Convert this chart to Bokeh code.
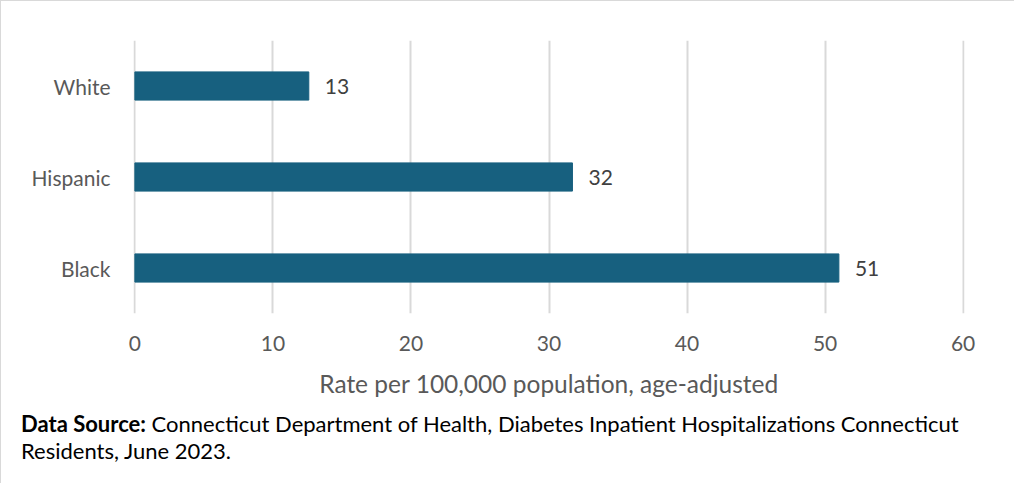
from bokeh.plotting import figure
from bokeh.layouts import column
from bokeh.models import FactorRange, Range1d, ColumnDataSource, FixedTicker, Div
from bokeh.embed import file_html
from bokeh.resources import INLINE
from bokeh.core.properties import value

categories = ["Black", "Hispanic", "White"]
rates = [51.0, 31.7, 12.6]
rate_labels = ["51", "32", "13"]
x_ticks = [0, 10, 20, 30, 40, 50, 60]
source_bold = "Data Source:"
source_line1 = "Connecticut Department of Health, Diabetes Inpatient Hospitalizations Connecticut"
source_line2 = "Residents, June 2023."

FONT = "Lato"
BAR_COLOR = "#17607F"

src = ColumnDataSource(dict(cat=categories, rate=rates, lab=rate_labels))

W, H1, H2 = 1012, 400, 79
p = figure(width=W, height=H1, output_backend="svg", toolbar_location=None,
           y_range=FactorRange(*categories, range_padding=0),
           x_range=Range1d(-0.1, 60.1),
           min_border_left=132, min_border_right=49, min_border_top=39, min_border_bottom=H1 - 312)
p.outline_line_color = None

p.hbar(y="cat", right="rate", left=0, height=0.31, source=src, color=BAR_COLOR)
p.text(x="rate", y="cat", text="lab", source=src, x_offset=16, text_baseline="middle",
       text_font=value(FONT), text_font_size="21px", text_color="#404040")

p.xaxis.ticker = FixedTicker(ticks=x_ticks)
p.xaxis.axis_line_color = None
p.xaxis.major_tick_line_color = None
p.xaxis.minor_tick_line_color = None
p.xaxis.major_label_text_font = FONT
p.xaxis.major_label_text_font_size = "21px"
p.xaxis.major_label_text_color = "#595959"
p.xaxis.major_label_standoff = 16
p.xaxis.axis_label = "Rate per 100,000 population, age-adjusted"
p.xaxis.axis_label_text_font = FONT
p.xaxis.axis_label_text_font_size = "24.5px"
p.xaxis.axis_label_text_font_style = "normal"
p.xaxis.axis_label_text_color = "#595959"
p.xaxis.axis_label_standoff = 15

p.yaxis.axis_line_color = None
p.yaxis.major_tick_line_color = None
p.yaxis.minor_tick_line_color = None
p.yaxis.major_label_text_font = FONT
p.yaxis.major_label_text_font_size = "21px"
p.yaxis.major_label_text_color = "#595959"
p.yaxis.major_label_standoff = 17

p.xgrid.grid_line_color = "#d9d9d9"
p.xgrid.grid_line_width = 2
p.ygrid.grid_line_color = None

footer = Div(
    text=f"<b>{source_bold}</b> {source_line1}<br>{source_line2}",
    width=W, height=H2,
    styles={"font-family": FONT, "font-size": "22px", "line-height": "27px",
            "color": "#000000", "padding-left": "15px", "padding-top": "4px",
            "white-space": "nowrap", "box-sizing": "border-box"},
)

layout = column(p, footer, spacing=0)
layout.styles = {"border": "1px solid #d9d9d9"}

open("out.html", "w").write(file_html(layout, INLINE))
